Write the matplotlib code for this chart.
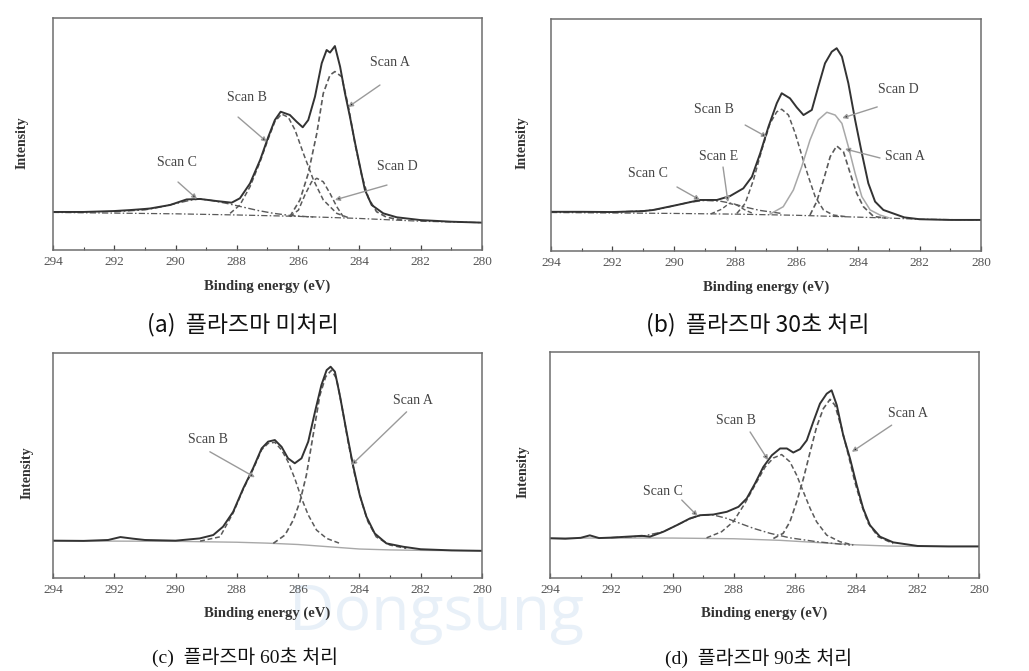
import matplotlib
matplotlib.use("Agg")
import matplotlib.pyplot as plt
from matplotlib.ticker import MultipleLocator

# ---- data (binding energy in eV, intensity in % of axis height) ----
# (a) plasma untreated
a_tot_E = [294, 293, 292, 291.5, 291, 290.83, 290.18, 289.64, 289.2, 288.66, 288.17, 287.9, 287.57, 287.24,
           286.97, 286.76, 286.57, 286.27, 286.05, 285.85, 285.67, 285.45, 285.23, 285.07, 284.96, 284.80,
           284.63, 284.47, 284.31, 284.14, 283.98, 283.82, 283.60, 283.22, 282.78, 282, 281, 280]
a_tot_v = [16.4, 16.4, 16.8, 17.2, 17.7, 17.9, 19.4, 21.8, 22.0, 21.1, 20.4, 22.3, 28.7, 38.8,
           48.9, 56.0, 59.6, 58.2, 55.3, 52.9, 56.0, 66.1, 80.5, 86.2, 85.1, 87.9,
           79.0, 67.5, 57.5, 46.0, 35.9, 25.9, 19.4, 15.8, 14.1, 12.9, 12.2, 11.8]
a_base_E = [294, 290, 288, 286, 284, 282, 280]
a_base_v = [16.2, 15.6, 15.1, 14.5, 13.6, 12.4, 11.8]
a_A_E = [286.27, 285.94, 285.67, 285.39, 285.18, 284.96, 284.80, 284.58, 284.36, 284.14, 283.93, 283.71, 283.44, 283.11, 282.6]
a_A_v = [14.4, 21.6, 33.0, 50.3, 67.5, 75.4, 76.9, 74.7, 61.8, 45.5, 32.5, 22.5, 16.5, 14.1, 12.9]
a_B_E = [288.22, 287.9, 287.57, 287.24, 286.97, 286.76, 286.54, 286.32, 286.10, 285.83, 285.50, 285.18, 284.74, 284.31]
a_B_v = [15.8, 19.4, 27.3, 38.1, 48.1, 55.3, 58.6, 57.2, 51.7, 41.7, 30.2, 21.6, 15.8, 13.7]
a_C_E = [292, 291, 290.5, 290, 289.5, 289.2, 288.8, 288.3, 287.8, 287.3, 286.8, 286.2, 285.5]
a_C_v = [16.5, 17.3, 18.5, 20.0, 21.5, 22.0, 21.3, 20.0, 18.5, 17.0, 15.8, 14.8, 14.2]
a_D_E = [286.27, 285.99, 285.78, 285.56, 285.39, 285.18, 284.96, 284.74, 284.53]
a_D_v = [14.4, 17.2, 23.7, 29.4, 30.9, 29.4, 24.4, 18.7, 14.4]

# (b) plasma 30 s
b_tot_E = [294, 293, 292, 291.75, 291, 290.67, 289.91, 289.15, 288.60, 288.17, 287.74, 287.46, 287.19, 286.92,
           286.65, 286.49, 286.22, 286.00, 285.78, 285.51, 285.30, 285.08, 284.86, 284.70, 284.53, 284.32,
           284.10, 283.88, 283.67, 283.45, 283.18, 282.5, 282, 281, 280]
b_tot_v = [16.9, 16.9, 16.8, 16.9, 17.2, 17.7, 19.8, 22.0, 22.0, 23.7, 27.0, 32.0, 42.1, 53.6,
           63.7, 68.0, 65.8, 61.9, 58.6, 60.8, 70.8, 80.9, 85.9, 87.4, 83.8, 72.3,
           56.5, 42.1, 29.2, 21.3, 17.7, 14.5, 13.7, 13.4, 13.4]
b_base_E = [294, 290, 288, 286, 284, 283, 282, 280]
b_base_v = [16.6, 16.2, 15.9, 15.4, 14.6, 14.2, 13.7, 13.4]
b_B_E = [287.95, 287.68, 287.41, 287.14, 286.87, 286.65, 286.49, 286.27, 286.05, 285.84, 285.62, 285.40, 285.13, 284.81, 284.4]
b_B_v = [16.2, 20.5, 30.6, 43.5, 55.0, 60.0, 61.1, 58.6, 50.7, 41.4, 32.0, 23.4, 17.7, 15.5, 14.8]
b_D_E = [286.87, 286.44, 286.11, 285.84, 285.57, 285.30, 285.02, 284.75, 284.53, 284.32, 284.10, 283.88, 283.61, 283.29, 283.0]
b_D_v = [15.9, 19.1, 26.3, 36.3, 47.8, 56.5, 59.8, 58.6, 55.0, 45.0, 33.5, 23.4, 17.7, 15.5, 14.3]
b_A_E = [285.57, 285.35, 285.13, 284.91, 284.70, 284.48, 284.26, 284.05, 283.83, 283.50, 283.1]
b_A_v = [15.5, 21.3, 30.6, 40.7, 45.3, 42.8, 33.5, 24.9, 19.1, 14.9, 14.2]
b_C_E = [292, 291, 290.5, 290, 289.5, 289, 288.5, 288.1, 287.7, 287.2, 286.5]
b_C_v = [16.8, 17.3, 18.0, 19.5, 21.0, 21.8, 21.5, 20.5, 19.0, 17.5, 16.2]
b_E_E = [288.8, 288.45, 288.2, 287.95, 287.7, 287.4]
b_E_v = [16.0, 18.0, 20.5, 19.8, 17.8, 16.0]

# (c) plasma 60 s
c_tot_E = [294, 293, 292.2, 291.8, 291.4, 291, 290, 289.21, 288.77, 288.45, 288.12, 287.79, 287.47, 287.19,
           286.98, 286.76, 286.54, 286.33, 286.11, 285.89, 285.67, 285.45, 285.24, 285.07, 284.94, 284.80,
           284.64, 284.42, 284.21, 283.99, 283.77, 283.50, 283.12, 282.57, 282, 281, 280]
c_tot_v = [16.7, 16.6, 17.0, 18.3, 17.6, 17.0, 16.7, 17.7, 19.2, 22.9, 29.5, 39.9, 48.8, 57.6,
           60.6, 61.3, 58.3, 53.2, 51.0, 53.2, 60.6, 73.8, 85.7, 92.3, 93.8, 91.6,
           81.2, 65.0, 50.2, 36.9, 27.3, 19.9, 15.5, 14.0, 12.9, 12.4, 12.2]
c_base_E = [294, 290, 288, 287, 286, 285, 284, 283, 282, 280]
c_base_v = [16.6, 16.4, 16.0, 15.6, 15.0, 14.0, 13.0, 12.6, 12.4, 12.2]
c_B_E = [289.2, 288.55, 288.12, 287.79, 287.47, 287.19, 286.98, 286.76, 286.54, 286.33, 286.11, 285.89,
         285.67, 285.40, 285.07, 284.64]
c_B_v = [16.5, 18.4, 29.0, 39.5, 48.3, 57.0, 59.8, 60.3, 56.9, 51.7, 44.3, 35.5, 28.1, 21.4, 17.7, 15.5]
c_A_E = [286.81, 286.43, 286.16, 285.94, 285.73, 285.51, 285.29, 285.10, 284.91, 284.75, 284.58, 284.37,
         284.15, 283.93, 283.72, 283.45, 283.01, 282.47]
c_A_v = [15.5, 19.2, 25.8, 34.0, 45.8, 63.5, 81.2, 89.4, 92.3, 88.6, 76.8, 60.6, 45.8, 34.0, 25.1, 18.4, 14.8, 13.3]

# (d) plasma 90 s
d_tot_E = [294, 293.5, 293, 292.7, 292.4, 292, 291, 290.74, 290.30, 289.86, 289.43, 289.10, 288.67, 288.23,
           287.85, 287.58, 287.31, 287.04, 286.76, 286.49, 286.27, 286.06, 285.84, 285.62, 285.41, 285.19,
           284.97, 284.81, 284.64, 284.43, 284.21, 283.99, 283.78, 283.56, 283.23, 282.80, 282, 281, 280]
d_tot_v = [17.7, 17.5, 17.9, 19.0, 17.8, 18.0, 18.8, 18.4, 20.6, 23.5, 26.5, 27.9, 28.2, 29.4,
           31.6, 35.3, 41.9, 49.2, 54.4, 57.4, 57.4, 55.6, 57.1, 61.0, 69.1, 77.2,
           81.6, 83.1, 76.5, 63.2, 53.0, 41.2, 30.9, 23.5, 18.4, 15.9, 14.3, 14.1, 14.1]
d_base_E = [294, 290, 288, 286.5, 285, 284, 283, 282, 280]
d_base_v = [17.8, 17.8, 17.5, 16.8, 15.6, 14.8, 14.3, 14.1, 14.1]
d_C_E = [292, 291, 290.3, 289.86, 289.43, 289.1, 288.7, 288.23, 287.80, 287.36, 286.82, 286.17, 285.30, 284.21]
d_C_v = [18.0, 18.6, 20.6, 23.5, 26.3, 27.8, 28.1, 26.5, 24.3, 22.1, 19.9, 17.9, 16.2, 14.7]
d_B_E = [288.89, 288.40, 288.02, 287.64, 287.31, 286.98, 286.71, 286.44, 286.17, 285.95, 285.73, 285.51,
         285.30, 284.97, 284.54, 284.10]
d_B_v = [17.9, 20.6, 25.0, 33.1, 41.2, 49.2, 53.2, 54.7, 51.5, 45.6, 38.2, 30.9, 25.0, 19.1, 16.2, 14.7]
d_A_E = [286.71, 286.39, 286.17, 285.95, 285.73, 285.51, 285.30, 285.08, 284.86, 284.70, 284.48, 284.26,
         284.05, 283.83, 283.61, 283.29, 282.80]
d_A_v = [17.6, 19.9, 25.0, 33.8, 44.1, 55.9, 66.9, 75.0, 79.1, 76.5, 66.2, 54.4, 42.6, 32.3, 24.3, 18.4, 15.4]

captions = ["(a)  플라즈마 미처리", "(b)  플라즈마 30초 처리", "(c)  플라즈마 60초 처리", "(d)  플라즈마 90초 처리"]
tick_vals = [294, 292, 290, 288, 286, 284, 282, 280]

SERIF = "Liberation Serif"
TOT = "#333333"
COMP = "#5a5a5a"
LIGHT = "#a8a8a8"
DASH = (0, (3.2, 1.8))
DASHDOT = (0, (5, 1.8, 1.2, 1.8))

fig = plt.figure(figsize=(10.29, 6.71), dpi=100)

# faint watermark, kept behind the axes and their labels
fig.text(0.425, 0.085, "Dongsung", fontsize=45, color="#e8f0f8", ha="center", va="center",
         family="Open Sans", zorder=-5)


def panel(rect, ylab_pos):
    ax = fig.add_axes(rect)
    ax.set_zorder(2)
    ax.set_xlim(294, 280)
    ax.set_ylim(0, 100)
    ax.set_yticks([])
    ax.set_xticks(tick_vals)
    ax.xaxis.set_minor_locator(MultipleLocator(1))
    ax.tick_params(axis="x", which="both", direction="in", top=False, colors="#444444",
                   labelcolor="#555555", labelsize=9.5, pad=4)
    ax.tick_params(axis="x", which="major", length=3.5, width=0.9)
    ax.tick_params(axis="x", which="minor", length=2.5, width=0.8)
    for lab in ax.get_xticklabels():
        lab.set_family(SERIF)
    for s in ax.spines.values():
        s.set_color("#6e6e6e")
        s.set_linewidth(1.1)
    ax.set_xlabel("Binding energy (eV)", family=SERIF, fontweight="bold", fontsize=10.5, color="#333333")
    ax.xaxis.set_label_coords(0.5, -0.125)
    ax.text(ylab_pos[0], ylab_pos[1], "Intensity", transform=ax.transAxes, rotation=90,
            ha="center", va="center", family=SERIF, fontweight="bold", fontsize=10, color="#333333")
    ax.patch.set_alpha(0)
    return ax


def label(ax, txt, text_xy, tail, tip):
    ax.text(text_xy[0], text_xy[1], txt, family=SERIF, fontsize=10, color="#444444",
            ha="center", va="center")
    ax.annotate("", xy=tip, xytext=tail,
                arrowprops=dict(arrowstyle="-|>", color="#9a9a9a", lw=1.0, mutation_scale=7,
                                fc="#111111", ec="#9a9a9a", shrinkA=0, shrinkB=0))


# (a)
ax = panel([0.0515, 0.6274, 0.4169, 0.3458], (-0.072, 0.463))
ax.plot(a_base_E, a_base_v, color=COMP, lw=0.9, ls=DASHDOT)
ax.plot(a_C_E, a_C_v, color=COMP, lw=1.0, ls=DASHDOT)
ax.plot(a_B_E, a_B_v, color=COMP, lw=1.1, ls=DASH)
ax.plot(a_D_E, a_D_v, color=COMP, lw=1.1, ls=DASH)
ax.plot(a_A_E, a_A_v, color=COMP, lw=1.2, ls=DASH)
ax.plot(a_tot_E, a_tot_v, color=TOT, lw=1.4)
label(ax, "Scan A", (283.0, 80.6), (283.33, 71.1), (284.37, 61.6))
label(ax, "Scan B", (287.67, 65.9), (287.96, 57.3), (287.02, 46.6))
label(ax, "Scan C", (289.95, 37.9), (289.92, 29.3), (289.30, 22.0))
label(ax, "Scan D", (282.77, 35.8), (283.10, 28.0), (284.80, 21.6))

# (b)
ax = panel([0.5355, 0.6259, 0.4179, 0.3458], (-0.067, 0.466))
ax.plot(b_base_E, b_base_v, color=COMP, lw=0.9, ls=DASHDOT)
ax.plot(b_C_E, b_C_v, color=COMP, lw=1.0, ls=DASHDOT)
ax.plot(b_E_E, b_E_v, color=COMP, lw=1.0, ls=DASH)
ax.plot(b_B_E, b_B_v, color=COMP, lw=1.1, ls=DASH)
ax.plot(b_D_E, b_D_v, color=LIGHT, lw=1.1)
ax.plot(b_A_E, b_A_v, color=COMP, lw=1.2, ls=DASH)
ax.plot(b_tot_E, b_tot_v, color=TOT, lw=1.4)
label(ax, "Scan D", (282.70, 69.8), (283.38, 62.1), (284.52, 57.3))
label(ax, "Scan A", (282.47, 40.9), (283.29, 40.1), (284.43, 44.0))
label(ax, "Scan B", (288.69, 60.8), (287.68, 54.3), (286.97, 49.1))
label(ax, "Scan E", (288.56, 40.9), (288.40, 36.2), (288.24, 21.1))
label(ax, "Scan C", (290.84, 33.2), (289.90, 27.6), (289.15, 22.0))

# (c)
ax = panel([0.0515, 0.1381, 0.4169, 0.3362], (-0.06, 0.47))
ax.plot(c_base_E, c_base_v, color=LIGHT, lw=1.0)
ax.plot(c_B_E, c_B_v, color=COMP, lw=1.1, ls=DASH)
ax.plot(c_A_E, c_A_v, color=COMP, lw=1.2, ls=DASH)
ax.plot(c_tot_E, c_tot_v, color=TOT, lw=1.4)
label(ax, "Scan B", (288.94, 61.6), (288.88, 56.1), (287.41, 44.8))
label(ax, "Scan A", (282.26, 79.0), (282.46, 73.8), (284.26, 50.2))

# (d)
ax = panel([0.5345, 0.1381, 0.4169, 0.3372], (-0.063, 0.47))
ax.plot(d_base_E, d_base_v, color=LIGHT, lw=1.0)
ax.plot(d_C_E, d_C_v, color=COMP, lw=1.0, ls=DASHDOT)
ax.plot(d_B_E, d_B_v, color=COMP, lw=1.1, ls=DASH)
ax.plot(d_A_E, d_A_v, color=COMP, lw=1.2, ls=DASH)
ax.plot(d_tot_E, d_tot_v, color=TOT, lw=1.4)
label(ax, "Scan A", (282.31, 72.8), (282.85, 67.7), (284.15, 55.9))
label(ax, "Scan B", (287.94, 69.9), (287.47, 64.7), (286.88, 52.2))
label(ax, "Scan C", (290.30, 38.2), (289.70, 34.6), (289.18, 27.5))

# captions under each panel
fig.text(0.236, 0.516, captions[0], fontsize=16.5, family=["Noto Sans CJK KR", "DejaVu Sans"],
         ha="center", va="center", color="#111111")
fig.text(0.736, 0.516, captions[1], fontsize=16.5, family=["Noto Sans CJK KR", "DejaVu Sans"],
         ha="center", va="center", color="#111111")
fig.text(0.238, 0.021, captions[2], fontsize=14, family=[SERIF, "Noto Sans CJK KR"],
         ha="center", va="center", color="#111111")
fig.text(0.737, 0.019, captions[3], fontsize=14, family=[SERIF, "Noto Sans CJK KR"],
         ha="center", va="center", color="#111111")

fig.savefig("out.png", dpi=100)
